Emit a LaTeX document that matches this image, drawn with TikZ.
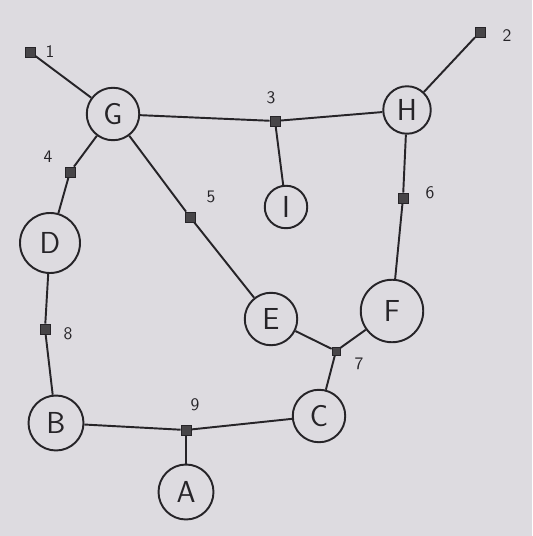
\documentclass[tikz,border=0pt]{standalone}
\usetikzlibrary{positioning}
\definecolor{paper}{RGB}{221,219,224}
\definecolor{pencil}{RGB}{38,36,40}
\begin{document}
\begin{tikzpicture}[
    x=0.02cm, y=-0.02cm,
    vertex/.style={circle, draw=pencil, line width=1.1pt, minimum size=1.05cm,
        inner sep=0pt, text=pencil, font=\sffamily\LARGE},
    junction/.style={rectangle, draw=pencil, fill=pencil!85, minimum size=0.2cm, inner sep=0pt},
    tag/.style={text=pencil, font=\sffamily, inner sep=1pt},
    link/.style={draw=pencil, line width=1.1pt}
]
\fill[paper] (0,0) rectangle (532,536);
\useasboundingbox (0,0) rectangle (532,536);

% vertices
\node (G) [vertex] at (113,114) {G};
\node (H) [vertex, minimum size=0.95cm] at (407,110) {H};
\node (I) [vertex, minimum size=0.85cm] at (286,207) {I};
\node (D) [vertex, minimum size=1.2cm] at (50,243) {D};
\node (E) [vertex] at (271,319) {E};
\node (F) [vertex, minimum size=1.25cm] at (392,311) {F};
\node (B) [vertex, minimum size=1.1cm] at (56,423) {B};
\node (C) [vertex] at (319,416) {C};
\node (A) [vertex, minimum size=1.1cm] at (186,492) {A};

% junctions
\node (J1) [junction] at (30,52) {};
\node (J2) [junction] at (480,32) {};
\node (J3) [junction] at (275,121) {};
\node (J4) [junction] at (70,172) {};
\node (J5) [junction] at (190,217) {};
\node (J6) [junction] at (403,198) {};
\node (J7) [junction, minimum size=0.16cm] at (336,351) {};
\node (J8) [junction] at (45,329) {};
\node (J9) [junction] at (186,430) {};

% junction labels
\node (T1) [tag] at (50,52) {1};
\node (T2) [tag] at (507,36) {2};
\node (T3) [tag] at (271,98) {3};
\node (T4) [tag] at (48,157) {4};
\node (T5) [tag] at (211,197) {5};
\node (T6) [tag] at (430,193) {6};
\node (T7) [tag] at (359,364) {7};
\node (T8) [tag] at (68,334) {8};
\node (T9) [tag] at (195,405) {9};

% links
\draw [link] (J1) -- (G);
\draw [link] (G) -- (J3) -- (H);
\draw [link] (J3) -- (I);
\draw [link] (J2) -- (H);
\draw [link] (G) -- (J4) -- (D);
\draw [link] (G) -- (J5) -- (E);
\draw [link] (H) -- (J6) -- (F);
\draw [link] (E) -- (J7) -- (F);
\draw [link] (J7) -- (C);
\draw [link] (D) -- (J8) -- (B);
\draw [link] (B) -- (J9) -- (C);
\draw [link] (J9) -- (A);
\end{tikzpicture}
\end{document}
